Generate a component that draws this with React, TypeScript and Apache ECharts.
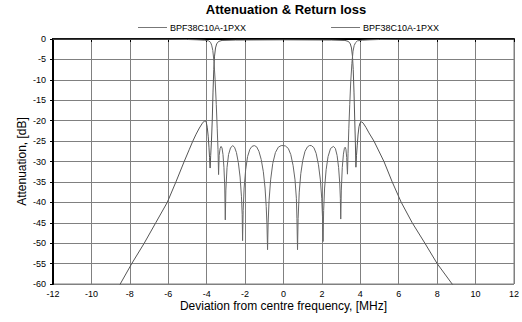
import React, { useEffect, useRef } from "react";
import * as echarts from "echarts";

const title = "Attenuation & Return loss";
const legendLabels = ["BPF38C10A-1PXX", "BPF38C10A-1PXX"];
const xAxisName = "Deviation from centre frequency, [MHz]";
const yAxisName = "Attenuation, [dB]";

// Attenuation (S21)
const s21Freq = [
  -9.0, -8.5, -7.9, -7.25, -6.65, -6.05, -5.6, -5.17, -4.9, -4.73, -4.55, -4.38, -4.22, -4.12, -4.07,
  -4.02, -3.97, -3.92, -3.88, -3.85, -3.82, -3.79, -3.75, -3.71, -3.67, -3.63, -3.59, -3.54, -3.48,
  -3.38, -3.2, -2.5, 0, 2.5, 3.2, 3.38, 3.48, 3.54, 3.59, 3.63, 3.67, 3.71, 3.74, 3.77, 3.8, 3.84,
  3.88, 3.93, 3.99, 4.07, 4.15, 4.3, 4.45, 4.71, 5.23, 5.66, 6.13, 6.7, 7.36, 8.0, 8.78, 9.2,
];
const s21Db = [
  -63.5, -60, -55, -50, -45, -40, -35, -30, -27, -25.1, -23.3, -21.8, -20.6, -20.1, -20.0,
  -20.4, -21.6, -23.8, -26.5, -29, -31.6, -28.5, -25, -20, -13, -7.5, -4.2, -2.2, -1.2,
  -0.6, -0.35, -0.25, -0.2, -0.25, -0.35, -0.6, -1.2, -2.2, -4.2, -7.5, -13, -20, -25, -31.4, -28.5, -26,
  -23.5, -21.5, -20.5, -20.3, -20.6, -21.7, -23, -25, -30, -35, -40, -45, -50, -55, -60, -62.5,
];

// Return loss (S11)
const s11Freq = [
  -12, -6, -5, -4.5, -4.1, -3.9, -3.8, -3.74, -3.68, -3.62, -3.56, -3.5, -3.45, -3.41, -3.38,
  -3.35, -3.3, -3.25, -3.2, -3.15, -3.1, -3.06, -3.03, -3.0, -2.94, -2.86, -2.76, -2.65, -2.55,
  -2.45, -2.35, -2.26, -2.19, -2.15, -2.13, -2.1, -2.05, -1.97, -1.87, -1.75, -1.64, -1.52, -1.4,
  -1.28, -1.16, -1.05, -0.96, -0.9, -0.86, -0.83, -0.8, -0.75, -0.67, -0.56, -0.42, -0.27, -0.12,
  -0.02, 0.1, 0.25, 0.38, 0.5, 0.6, 0.67, 0.7, 0.73, 0.76, 0.82, 0.9, 1.0, 1.12, 1.25, 1.35, 1.45,
  1.58, 1.7, 1.82, 1.92, 1.99, 2.03, 2.06, 2.09, 2.14, 2.22, 2.32, 2.45, 2.6, 2.7, 2.79, 2.87, 2.93,
  2.96, 2.98, 3.01, 3.06, 3.12, 3.17, 3.21, 3.25, 3.29, 3.33, 3.36, 3.4, 3.45, 3.5, 3.56, 3.62,
  3.68, 3.75, 3.85, 4.1, 4.5, 5, 6, 12,
];
const s11Db = [
  -0.02, -0.05, -0.12, -0.2, -0.3, -0.45, -0.8, -1.5, -2.8, -5.5, -10, -16, -22, -27, -33.2,
  -28.5, -26.8, -26.3, -26.7, -28.3, -31.5, -36, -44.3, -37, -31.5, -28.3, -26.7, -26.1, -26.5,
  -27.8, -30.3, -33.8, -38.5, -43, -49.4, -42, -36.5, -32, -28.8, -27, -26.3, -26.1, -26.4,
  -27.5, -29.5, -32.5, -36.5, -41, -45.5, -51.6, -45, -39.5, -34.5, -30.5, -27.8, -26.5, -26.1,
  -26.1, -26.2, -26.8, -28.3, -31, -34.5, -39, -44, -51.6, -44, -37.5, -33, -29.8, -27.5, -26.4, -26.1, -26.1,
  -26.6, -28, -30.8, -34.5, -39, -43.5, -49.6, -42, -36.5, -32, -28.8, -26.8, -26.3, -26.8, -28.5, -31.5, -35.5,
  -39, -44.1, -37, -31.5, -28.2, -26.8, -26.5, -27, -29, -33.1, -28, -22, -16, -10.5, -6, -3,
  -1.6, -0.9, -0.45, -0.3, -0.2, -0.12, -0.05, -0.02,
];

const xMin = -12;
const xMax = 12;
const xStep = 2;
const yMin = -60;
const yMax = 0;
const yStep = 5;

export default function App() {
  const ref = useRef<HTMLDivElement>(null);
  useEffect(() => {
    if (!ref.current) return;
    const chart = echarts.init(ref.current, null, { renderer: "svg" });
    const font = "Liberation Sans, Arial, sans-serif";
    chart.setOption({
      animation: false,
      backgroundColor: "#ffffff",
      title: {
        text: title,
        left: 286,
        textAlign: "center",
        top: 3,
        padding: 0,
        textStyle: { fontSize: 13, fontWeight: "bold", color: "#000", fontFamily: font },
      },
      legend: {
        data: ["a", "b"],
        formatter: (name: string) => (name === "a" ? legendLabels[0] : legendLabels[1]),
        left: 138,
        top: 23,
        padding: 0,
        icon: "rect",
        itemWidth: 29,
        itemHeight: 1,
        itemGap: 85,
        selectedMode: false,
        textStyle: { fontSize: 9, color: "#000", fontFamily: font, padding: [0, 0, 0, -2] },
      },
      grid: {
        left: 53,
        right: 7,
        top: 39,
        bottom: 38,
        show: true,
        borderColor: "#808080",
        borderWidth: 1,
      },
      xAxis: {
        type: "value",
        min: xMin,
        max: xMax,
        interval: xStep,
        name: xAxisName,
        nameLocation: "middle",
        nameGap: 16,
        nameMoveOverlap: false,
        nameTextStyle: { fontSize: 12, color: "#000", fontFamily: font },
        axisLine: { show: true, lineStyle: { color: "#000", width: 2 } },
        axisTick: { show: true, length: 3, lineStyle: { color: "#000" } },
        axisLabel: { fontSize: 9, color: "#000", fontFamily: font, margin: 5 },
        splitLine: { show: true, lineStyle: { color: "#808080", width: 1 } },
      },
      yAxis: {
        type: "value",
        min: yMin,
        max: yMax,
        interval: yStep,
        name: yAxisName,
        nameLocation: "middle",
        nameGap: 25,
        nameMoveOverlap: false,
        nameTextStyle: { fontSize: 12, color: "#000", fontFamily: font },
        axisLine: { show: true, onZero: false, lineStyle: { color: "#000", width: 2 } },
        axisTick: { show: true, length: 3, lineStyle: { color: "#000" } },
        axisLabel: { fontSize: 9, color: "#000", fontFamily: font, margin: 7 },
        splitLine: { show: true, lineStyle: { color: "#808080", width: 1 } },
      },
      series: [
        {
          name: "a",
          type: "line",
          showSymbol: false,
          symbol: "none",
          clip: true,
          lineStyle: { color: "#555555", width: 1 },
          itemStyle: { color: "#777777" },
          data: s21Freq.map((f, i) => [f, s21Db[i]]),
        },
        {
          name: "b",
          type: "line",
          showSymbol: false,
          symbol: "none",
          clip: true,
          lineStyle: { color: "#666666", width: 1 },
          itemStyle: { color: "#777777" },
          data: s11Freq.map((f, i) => [f, s11Db[i]]),
        },
      ],
    });
    return () => chart.dispose();
  }, []);
  return (
    <div
      ref={ref}
      style={{ position: "fixed", left: 0, top: 0, width: 522, height: 322, background: "#fff" }}
    />
  );
}
